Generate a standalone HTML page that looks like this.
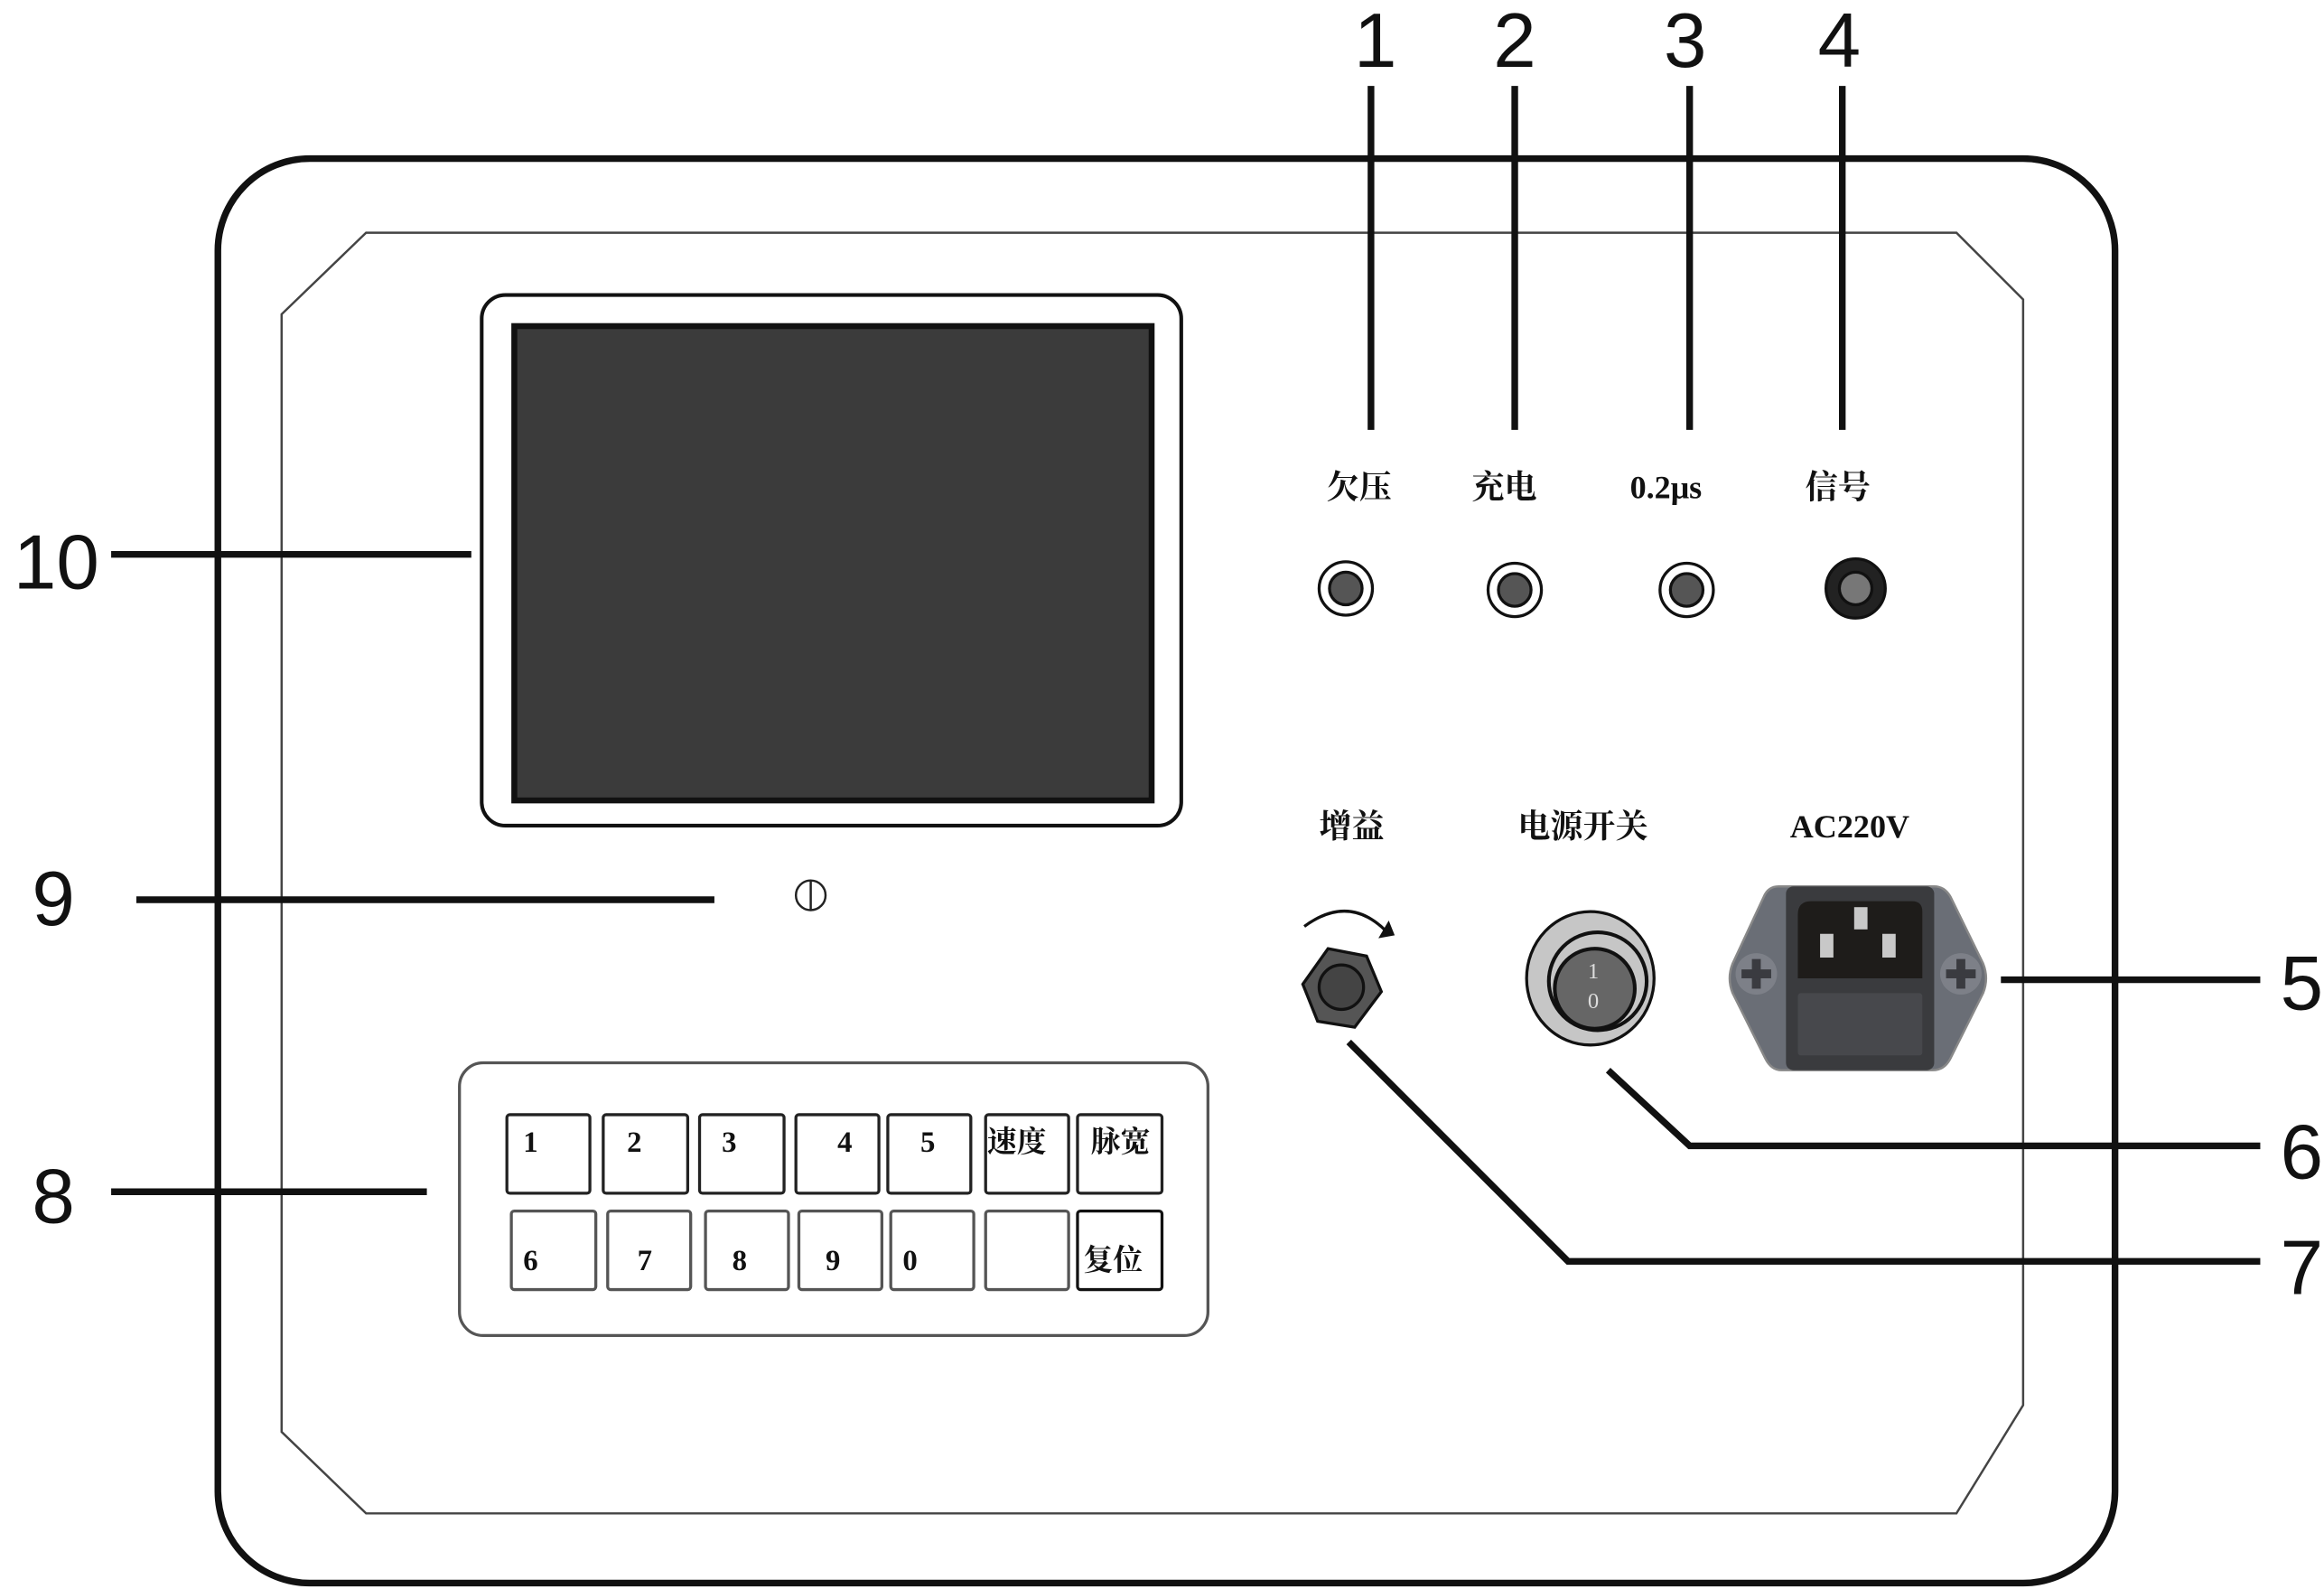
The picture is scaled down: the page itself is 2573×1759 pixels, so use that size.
<!DOCTYPE html>
<html><head><meta charset="utf-8"><style>
html,body{margin:0;padding:0;background:#fff;}
svg{display:block;}
.n{font-family:"Liberation Sans",sans-serif;font-size:52px;fill:#111;text-anchor:middle;}
.l{font-family:"Liberation Serif","Noto Serif CJK SC",serif;font-weight:bold;font-size:22px;fill:#111;text-anchor:middle;}
.k{font-family:"Liberation Serif","Noto Serif CJK SC",serif;font-weight:bold;font-size:20px;fill:#111;}
</style></head><body>
<svg width="2573" height="1759" viewBox="0 0 1568 1072" preserveAspectRatio="none" xmlns="http://www.w3.org/2000/svg">
<rect x="147" y="107" width="1280" height="961" rx="62" fill="#fff" stroke="#111" stroke-width="4.5"/>
<polygon points="247,157 1320,157 1365,202 1365,948 1320,1021 247,1021 190,966 190,212" fill="none" stroke="#444" stroke-width="1.5"/>
<!-- screen -->
<rect x="325" y="199" width="472" height="358" rx="16" fill="#fff" stroke="#111" stroke-width="2.5"/>
<rect x="347" y="220" width="430" height="320" fill="#3b3b3b" stroke="#111" stroke-width="4"/>
<!-- callout lines -->
<g stroke="#111" stroke-width="4.5" fill="none">
<line x1="925" y1="58" x2="925" y2="290"/>
<line x1="1022" y1="58" x2="1022" y2="290"/>
<line x1="1140" y1="58" x2="1140" y2="290"/>
<line x1="1243" y1="58" x2="1243" y2="290"/>
<line x1="75" y1="374" x2="318" y2="374"/>
<line x1="92" y1="607" x2="482" y2="607"/>
<line x1="75" y1="804" x2="288" y2="804"/>
<line x1="1350" y1="661" x2="1525" y2="661"/>
<polyline points="1085,722 1140,773 1525,773"/>
<polyline points="910,703 1058,851 1525,851"/>
</g>
<text class="n" x="928" y="45">1</text>
<text class="n" x="1022" y="45">2</text>
<text class="n" x="1137" y="45">3</text>
<text class="n" x="1241" y="45">4</text>
<text class="n" x="38" y="397">10</text>
<text class="n" x="36" y="624">9</text>
<text class="n" x="36" y="825">8</text>
<text class="n" x="1553" y="681">5</text>
<text class="n" x="1553" y="795">6</text>
<text class="n" x="1553" y="873">7</text>
<!-- 9 screw -->
<circle cx="547" cy="604" r="10" fill="#fff" stroke="#222" stroke-width="1.5"/>
<line x1="547" y1="594" x2="547" y2="614" stroke="#222" stroke-width="1.5"/>
<!-- LED labels -->
<text class="l" x="917" y="336">欠压</text>
<text class="l" x="1015" y="336">充电</text>
<text class="l" x="1124" y="336">0.2μs</text>
<text class="l" x="1240" y="336">信号</text>
<g stroke="#111" stroke-width="2">
<circle cx="908" cy="397" r="18" fill="#fff"/><circle cx="908" cy="397" r="11" fill="#555"/>
<circle cx="1022" cy="398" r="18" fill="#fff"/><circle cx="1022" cy="398" r="11" fill="#555"/>
<circle cx="1138" cy="398" r="18" fill="#fff"/><circle cx="1138" cy="398" r="11" fill="#555"/>
<circle cx="1252" cy="397" r="20" fill="#222"/><circle cx="1252" cy="397" r="11" fill="#777"/>
</g>
<text class="l" x="912" y="565">增益</text>
<text class="l" x="1068" y="565">电源开关</text>
<text class="l" x="1248" y="565">AC220V</text>
<!-- knob -->
<path d="M880,625 Q910,603 935,628" fill="none" stroke="#111" stroke-width="2"/>
<polygon points="930,633 941,631 937,621" fill="#111"/>
<polygon points="896,640 922,645 932,669 914,693 889,689 879,664" fill="#555" stroke="#111" stroke-width="2"/>
<circle cx="905" cy="666" r="15" fill="#444" stroke="#111" stroke-width="2"/>
<!-- power switch -->
<ellipse cx="1073" cy="660" rx="43" ry="45" fill="#c6c6c6" stroke="#111" stroke-width="2"/>
<circle cx="1078" cy="662" r="33" fill="#c6c6c6" stroke="#111" stroke-width="2.5"/>
<circle cx="1076" cy="667" r="27" fill="#666" stroke="#111" stroke-width="2.5"/>
<text x="1075" y="660" font-family="Liberation Serif,serif" font-size="15" fill="#ddd" text-anchor="middle">1</text>
<text x="1075" y="680" font-family="Liberation Serif,serif" font-size="15" fill="#ddd" text-anchor="middle">0</text>
<!-- AC socket -->
<path d="M1200,598 L1305,598 Q1312,598 1316,605 L1338,650 Q1342,660 1338,670 L1316,714 Q1312,722 1304,722 L1202,722 Q1195,722 1191,714 L1169,670 Q1165,660 1169,650 L1190,605 Q1193,598 1200,598 Z" fill="#6a6e76" stroke="#888" stroke-width="1.5"/>
<rect x="1205" y="598" width="100" height="124" rx="5" fill="#3a3b3e"/>
<path d="M1222,608 L1290,608 Q1297,608 1297,615 L1297,660 L1213,660 L1213,617 Q1213,608 1222,608 Z" fill="#1e1c1a"/>
<rect x="1251" y="612" width="9" height="15" fill="#c8c8c8"/>
<rect x="1228" y="630" width="9" height="16" fill="#c8c8c8"/>
<rect x="1270" y="630" width="9" height="16" fill="#c8c8c8"/>
<rect x="1213" y="670" width="84" height="42" rx="2" fill="#47484c"/>
<circle cx="1185" cy="657" r="14" fill="#7d8088"/>
<circle cx="1323" cy="657" r="14" fill="#7d8088"/>
<g fill="#3a3b40">
<rect x="1182" y="647" width="6" height="20"/><rect x="1175" y="654" width="20" height="6"/>
<rect x="1320" y="647" width="6" height="20"/><rect x="1313" y="654" width="20" height="6"/>
</g>
<!-- keypad -->
<rect x="310" y="717" width="505" height="184" rx="16" fill="#fff" stroke="#555" stroke-width="2"/>
<g fill="#fff" stroke="#222" stroke-width="2">
<rect x="342" y="752" width="56" height="53" rx="2"/>
<rect x="407" y="752" width="57" height="53" rx="2"/>
<rect x="472" y="752" width="57" height="53" rx="2"/>
<rect x="537" y="752" width="56" height="53" rx="2"/>
<rect x="599" y="752" width="56" height="53" rx="2"/>
<rect x="665" y="752" width="56" height="53" rx="2"/>
<rect x="727" y="752" width="57" height="53" rx="2"/>
</g>
<g fill="#fff" stroke="#555" stroke-width="2">
<rect x="345" y="817" width="57" height="53" rx="2"/>
<rect x="410" y="817" width="56" height="53" rx="2"/>
<rect x="476" y="817" width="56" height="53" rx="2"/>
<rect x="539" y="817" width="56" height="53" rx="2"/>
<rect x="601" y="817" width="56" height="53" rx="2"/>
<rect x="665" y="817" width="56" height="53" rx="2"/>
</g>
<rect x="727" y="817" width="57" height="53" rx="2" fill="#fff" stroke="#111" stroke-width="2"/>
<text class="k" x="353" y="777">1</text>
<text class="k" x="423" y="777">2</text>
<text class="k" x="487" y="777">3</text>
<text class="k" x="565" y="777">4</text>
<text class="k" x="621" y="777">5</text>
<text class="k" x="666" y="777">速度</text>
<text class="k" x="736" y="777">脉宽</text>
<text class="k" x="353" y="857">6</text>
<text class="k" x="430" y="857">7</text>
<text class="k" x="494" y="857">8</text>
<text class="k" x="557" y="857">9</text>
<text class="k" x="609" y="857">0</text>
<text class="k" x="731" y="857">复位</text>
</svg>
</body></html>
